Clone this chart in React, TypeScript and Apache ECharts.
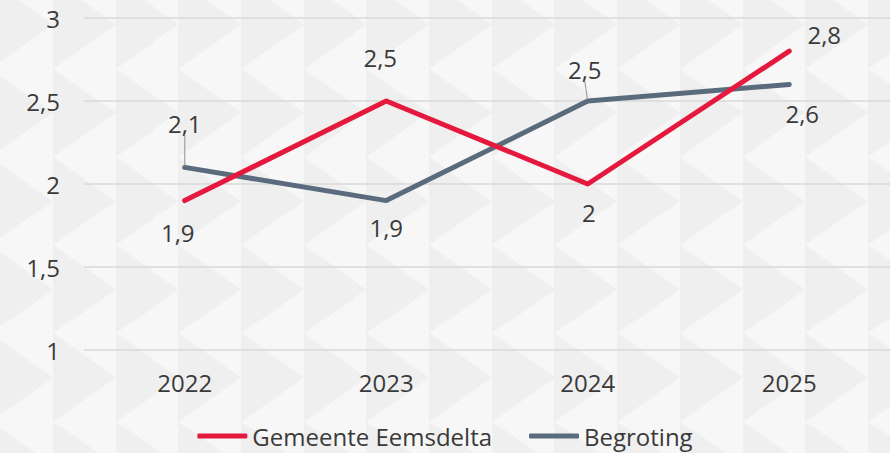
import React, { useEffect, useRef } from "react";
import * as echarts from "echarts";

const categories = ["2022", "2023", "2024", "2025"];
const yTicks = [1, 1.5, 2, 2.5, 3];
const gemeenteName = "Gemeente Eemsdelta";
const begrotingName = "Begroting";
const gemeente = [1.9, 2.5, 2.0, 2.8];
const begroting = [2.1, 1.9, 2.5, 2.6];

// label offsets (styling) relative to each point
const gemeenteLabelOffsets = [[-7, 32], [-6, -44], [1, 28], [35, -17]];
const begrotingLabelOffsets = [[0, -44], [0, 27], [-3, -32], [13, 29]];
const begrotingLeader = [true, false, true, false];

const FONT = "'Open Sans', sans-serif";
const FS = 24;
const TEXT = "#3a3a3a";
const RED = "#e5193e";
const SLATE = "#5a6b7d";

const fmt = (v: number) => String(v).replace(".", ",");

const tile =
  "data:image/svg+xml;utf8," +
  encodeURIComponent(
    "<svg xmlns='http://www.w3.org/2000/svg' width='62.7' height='88.2'>" +
      "<rect width='62.7' height='88.2' fill='#f7f7f7'/>" +
      "<polygon points='0,0 62.7,44.1 0,88.2' fill='#efefef'/></svg>"
  );

export default function App() {
  const ref = useRef<HTMLDivElement>(null);
  useEffect(() => {
    if (!ref.current) return;
    const chart = echarts.init(ref.current, undefined, { renderer: "svg" });
    const labelStyle = {
      show: true,
      position: "inside",
      fontFamily: FONT,
      fontSize: FS,
      color: TEXT,
      formatter: (p: any) => fmt(p.value),
    };
    chart.setOption({
      animation: false,
      backgroundColor: "transparent",
      grid: { left: 84, right: 0, top: 18, bottom: 103, containLabel: false },
      legend: {
        bottom: 0,
        left: "center",
        itemWidth: 50,
        itemHeight: 5,
        itemGap: 37,
        icon: "roundRect",
        textStyle: { fontFamily: FONT, fontSize: FS, color: TEXT },
        data: [gemeenteName, begrotingName],
      },
      xAxis: {
        type: "category",
        data: categories,
        boundaryGap: true,
        axisLine: { show: false },
        axisTick: { show: false },
        axisLabel: { fontFamily: FONT, fontSize: FS, color: TEXT, margin: 20 },
      },
      yAxis: {
        type: "value",
        min: yTicks[0],
        max: yTicks[yTicks.length - 1],
        interval: 0.5,
        axisLine: { show: false },
        axisTick: { show: false },
        splitLine: { lineStyle: { color: "#d9d9d9", width: 1.5 } },
        axisLabel: {
          fontFamily: FONT,
          fontSize: FS,
          color: TEXT,
          margin: 24,
          formatter: (v: number) => fmt(v),
        },
      },
      series: [
        {
          name: gemeenteName,
          type: "line",
          data: gemeente.map((v, i) => ({ value: v, label: { offset: gemeenteLabelOffsets[i] } })),
          symbol: "circle",
          symbolSize: 4,
          showSymbol: true,
          itemStyle: { color: RED },
          lineStyle: { color: RED, width: 5, cap: "round", join: "round" },
          label: labelStyle,
          z: 3,
        },
        {
          name: begrotingName,
          type: "line",
          data: begroting.map((v, i) => ({
            value: v,
            labelLine: begrotingLeader[i]
              ? { show: true, lineStyle: { color: "#a0a0a0", width: 1.2 } }
              : { show: false },
          })),
          symbol: "circle",
          symbolSize: 4,
          showSymbol: true,
          itemStyle: { color: SLATE },
          lineStyle: { color: SLATE, width: 5, cap: "round", join: "round" },
          label: labelStyle,
          labelLayout: (params: any) => {
            const i = params.dataIndex;
            const [dx, dy] = begrotingLabelOffsets[i];
            const out: any = { dx, dy };
            if (begrotingLeader[i]) {
              const r = params.rect;
              const l = params.labelRect;
              const cx = r.x + r.width / 2;
              const cy = r.y + r.height / 2;
              const lx = l.x + l.width / 2 + dx;
              const ly = l.y + l.height + dy - 2;
              out.labelLinePoints = [
                [lx, ly],
                [lx + (cx - lx) * 0.5, ly + (cy - 3 - ly) * 0.5],
                [cx, cy - 3],
              ];
            }
            return out;
          },
          z: 2,
        },
      ],
    });
    return () => chart.dispose();
  }, []);
  return (
    <div
      ref={ref}
      style={{
        position: "fixed",
        left: 0,
        top: 0,
        width: 890,
        height: 453,
        backgroundColor: "#f7f7f7",
        backgroundImage: `url("${tile}")`,
        backgroundSize: "62.7px 88.2px",
        backgroundPosition: "53px 157px",
      }}
    />
  );
}
